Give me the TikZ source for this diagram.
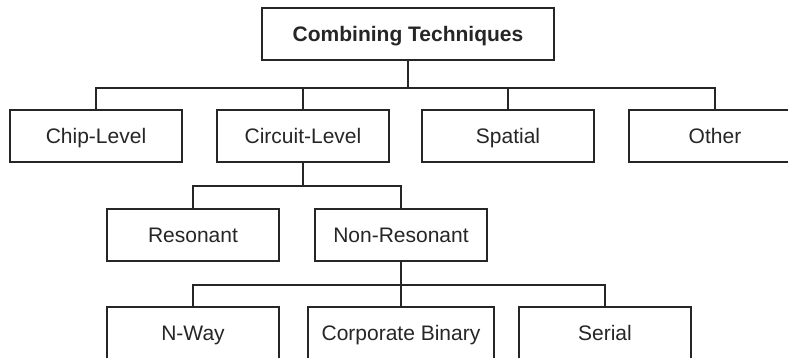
\documentclass[tikz,border=0pt]{standalone}
\usepackage{fontspec}
\setmainfont{Liberation Sans}
\definecolor{ink}{HTML}{262626}
\begin{document}
\begin{tikzpicture}[x=1pt,y=-1pt,
  box/.style={draw=ink, line width=1.5pt, minimum height=52pt, inner sep=0pt,
    text height=15pt, text depth=0pt,
    text=ink, font=\fontsize{21}{24}\selectfont},
  wire/.style={draw=ink, line width=1.6pt}]
\useasboundingbox (0,0) rectangle (788,358);
\clip (0,0) rectangle (788,358);
\fill[white] (0,0) rectangle (788,358);
% nodes
\node[box, minimum width=292pt, font=\fontsize{21}{24}\selectfont\bfseries] (top) at (408,34) {Combining Techniques};
\node[box, minimum width=172pt] (chip) at (96,136) {Chip-Level};
\node[box, minimum width=172pt] (circuit) at (303,136) {Circuit-Level};
\node[box, minimum width=172pt] (spatial) at (508,136) {Spatial};
\node[box, minimum width=172pt] (other) at (715,136) {Other};
\node[box, minimum width=172pt] (res) at (193,235) {Resonant};
\node[box, minimum width=172pt] (nonres) at (401,235) {Non-Resonant};
\node[box, minimum width=172pt] (nway) at (193,333) {N-Way};
\node[box, minimum width=186pt] (corp) at (401,333) {Corporate Binary};
\node[box, minimum width=172pt] (serial) at (605,333) {Serial};
% bars
\coordinate (b1) at (408,88);
\coordinate (b2) at (303,186);
\coordinate (b3) at (401,285);
% connectors
\draw[wire] (top.south) -- (b1);
\draw[wire] (chip.north) |- (b1) -| (other.north);
\draw[wire] (circuit.north) -- (circuit.north |- b1);
\draw[wire] (spatial.north) -- (spatial.north |- b1);
\draw[wire] (circuit.south) -- (b2);
\draw[wire] (res.north) |- (b2) -| (nonres.north);
\draw[wire] (nonres.south) -- (b3);
\draw[wire] (nway.north) |- (b3) -| (serial.north);
\draw[wire] (corp.north) -- (corp.north |- b3);
\end{tikzpicture}
\end{document}
